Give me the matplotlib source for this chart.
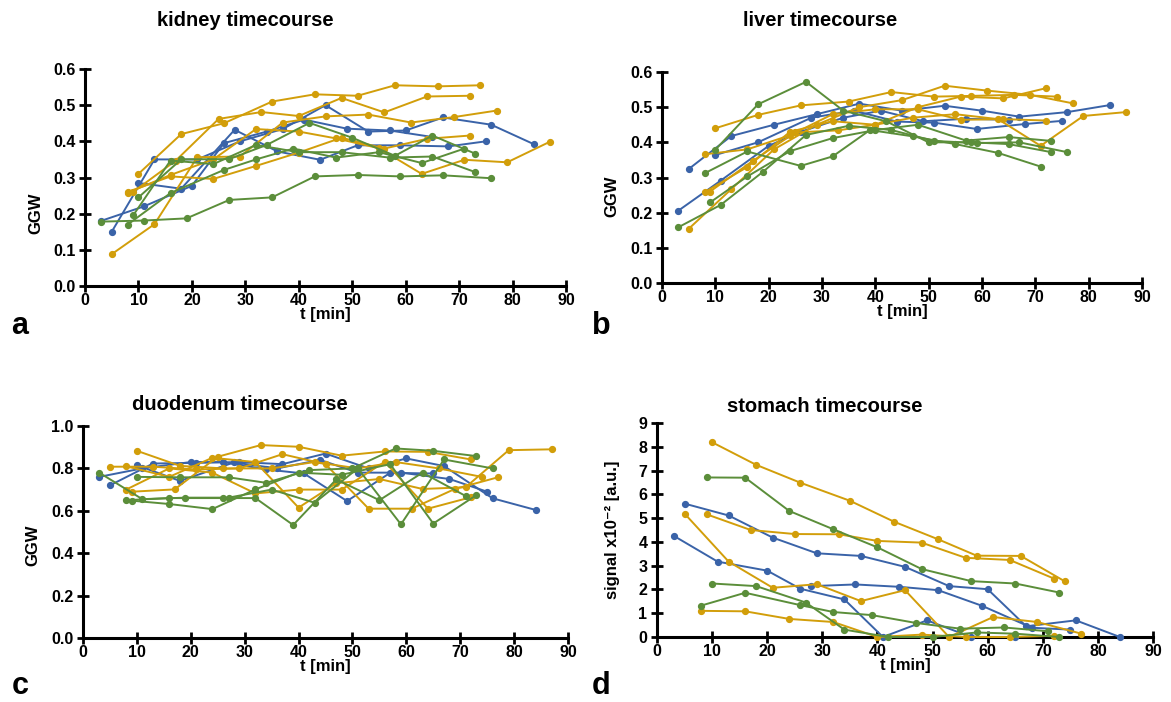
import numpy as np
import matplotlib
matplotlib.use("Agg")
import matplotlib.pyplot as plt

plt.rcParams['font.family'] = ['Liberation Sans', 'DejaVu Sans']
plt.rcParams['font.weight'] = 'bold'

# measurement times per subject [min]
times = {
    'b1': [5, 13, 21, 29, 37, 45, 53, 60, 67, 76, 84],
    'b2': [3, 11, 20, 26, 34, 41, 49, 57, 65],
    'b3': [10, 18, 28, 36, 44, 51, 59, 68, 75],
    'y1': [10, 18, 26, 35, 43, 51, 58, 66, 74],
    'y2': [9, 17, 25, 33, 40, 48, 56, 64, 72],
    'y3': [5, 13, 21, 29, 37, 45, 53, 61, 69, 77],
    'y4': [8, 16, 24, 32, 40, 48, 56, 64, 72],
    'y5': [8, 16, 24, 32, 40, 47, 55, 63, 71, 79, 87],
    'g1': [9, 16, 24, 32, 40, 48, 57, 65, 73],
    'g2': [10, 18, 27, 34, 42, 50, 58, 65, 73],
    'g3': [8, 16, 26, 32, 39, 47, 55, 63, 71],
    'g4': [3, 11, 19, 27, 35, 43, 51, 59, 67, 76],
}

kidney = {
    'b1': [0.15, 0.35, 0.35, 0.40, 0.434, 0.50, 0.427, 0.43, 0.466, 0.446, 0.392],
    'b2': [0.18, 0.22, 0.277, 0.395, 0.427, 0.46, 0.435, 0.43, 0.412],
    'b3': [0.285, 0.269, 0.432, 0.372, 0.349, 0.389, 0.389, 0.386, 0.40],
    'y1': [0.31, 0.42, 0.45, 0.51, 0.53, 0.526, 0.555, 0.552, 0.555],
    'y2': [0.26, 0.347, 0.462, 0.481, 0.47, 0.52, 0.48, 0.524, 0.526],
    'y3': [0.088, 0.171, 0.356, 0.358, 0.452, 0.469, 0.474, 0.452, 0.467, 0.485],
    'y4': [0.26, 0.303, 0.296, 0.332, 0.369, 0.41, 0.38, 0.407, 0.416],
    'y5': [0.258, 0.307, 0.35, 0.434, 0.427, 0.408, 0.381, 0.31, 0.349, 0.342, 0.399],
    'g1': [0.195, 0.347, 0.337, 0.39, 0.37, 0.37, 0.355, 0.358, 0.315],
    'g2': [0.245, 0.35, 0.351, 0.39, 0.451, 0.41, 0.36, 0.416, 0.366],
    'g3': [0.17, 0.257, 0.321, 0.35, 0.38, 0.355, 0.37, 0.34, 0.38],
    'g4': [0.178, 0.181, 0.187, 0.238, 0.245, 0.303, 0.307, 0.303, 0.306, 0.298],
}

liver = {
    'b1': [0.324, 0.418, 0.45, 0.48, 0.51, 0.49, 0.504, 0.49, 0.473, 0.486, 0.506],
    'b2': [0.205, 0.291, 0.39, 0.43, 0.47, 0.49, 0.46, 0.467, 0.464],
    'b3': [0.364, 0.40, 0.47, 0.49, 0.459, 0.456, 0.438, 0.452, 0.461],
    'y1': [0.44, 0.478, 0.505, 0.516, 0.543, 0.53, 0.532, 0.535, 0.53],
    'y2': [0.26, 0.347, 0.428, 0.434, 0.45, 0.50, 0.53, 0.525, 0.554],
    'y3': [0.154, 0.267, 0.38, 0.45, 0.50, 0.52, 0.561, 0.547, 0.535, 0.511],
    'y4': [0.366, 0.38, 0.42, 0.48, 0.494, 0.494, 0.464, 0.466, 0.462],
    'y5': [0.258, 0.33, 0.43, 0.46, 0.45, 0.47, 0.48, 0.466, 0.39, 0.475, 0.486],
    'g1': [0.229, 0.303, 0.375, 0.412, 0.435, 0.45, 0.405, 0.415, 0.404],
    'g2': [0.379, 0.508, 0.572, 0.49, 0.46, 0.40, 0.40, 0.395, 0.372],
    'g3': [0.312, 0.374, 0.333, 0.36, 0.435, 0.417, 0.395, 0.37, 0.331],
    'g4': [0.158, 0.222, 0.317, 0.421, 0.447, 0.435, 0.404, 0.398, 0.40, 0.372],
}

duodenum = {
    'b1': [0.72, 0.823, 0.826, 0.83, 0.82, 0.87, 0.80, 0.847, 0.811, 0.659, 0.604],
    'b2': [0.76, 0.80, 0.83, 0.83, 0.795, 0.776, 0.646, 0.779, 0.776],
    'b3': [0.815, 0.741, 0.828, 0.80, 0.84, 0.78, 0.78, 0.75, 0.69],
    'y1': [0.883, 0.812, 0.80, 0.80, 0.83, 0.80, 0.83, 0.80, 0.76],
    'y2': [0.69, 0.701, 0.855, 0.91, 0.902, 0.86, 0.88, 0.878, 0.842],
    'y3': [0.808, 0.808, 0.795, 0.80, 0.867, 0.82, 0.61, 0.61, 0.703, 0.758],
    'y4': [0.70, 0.80, 0.78, 0.682, 0.70, 0.70, 0.831, 0.61, 0.664],
    'y5': [0.81, 0.76, 0.85, 0.83, 0.615, 0.73, 0.75, 0.703, 0.711, 0.886, 0.89],
    'g1': [0.648, 0.632, 0.608, 0.701, 0.78, 0.77, 0.82, 0.54, 0.674],
    'g2': [0.76, 0.758, 0.758, 0.732, 0.792, 0.80, 0.894, 0.883, 0.858],
    'g3': [0.65, 0.66, 0.66, 0.66, 0.533, 0.748, 0.65, 0.78, 0.67],
    'g4': [0.78, 0.655, 0.662, 0.662, 0.70, 0.638, 0.80, 0.536, 0.842, 0.80],
}

stomach = {
    'b1': [5.61, 5.11, 4.18, 3.52, 3.41, 2.95, 2.14, 2.01, 0.45, 0.70, 0.0],
    'b2': [4.26, 3.17, 2.79, 2.03, 1.58, 0.0, 0.70, 0.0, 0.0],
    'b3': [None, None, 2.14, 2.21, 2.11, 1.97, 1.31, 0.39, 0.31],
    'y1': [8.19, 7.24, 6.49, 5.73, 4.85, 4.11, 3.42, 3.41, 2.34],
    'y2': [5.16, 4.50, 4.33, 4.32, 4.04, 3.97, 3.33, 3.24, 2.46],
    'y3': [5.19, 3.17, 2.07, 2.22, 1.51, 1.97, 0.0, 0.84, 0.63, 0.14],
    'y4': [1.10, 1.08, 0.76, 0.63, 0.0, 0.10, 0.0, 0.0, 0.05],
    'g1': [6.71, 6.70, 5.30, 4.53, 3.77, 2.86, 2.35, 2.25, 1.87],
    'g2': [2.25, 2.14, 1.45, 0.31, 0.0, 0.0, 0.19, 0.14, 0.0],
    'g3': [1.32, 1.86, 1.34, 1.05, 0.92, 0.59, 0.35, 0.40, 0.24],
}

colors = {'b': '#3A63A8', 'y': '#D29E0A', 'g': '#5B8E3A'}

fig = plt.figure(figsize=(11.71, 7.02), dpi=100)

W, H = 1171.0, 702.0
def px_axes(l, t, r, b):
    return fig.add_axes([l / W, 1 - b / H, (r - l) / W, (b - t) / H])

panels = [
    # data, axes box (px), ylim, yticks, yfmt
    (kidney, (85, 69, 566, 286), (0, 0.6), np.arange(0, 0.61, 0.1), '{:.1f}'),
    (liver, (662, 72, 1142, 283), (0, 0.6), np.arange(0, 0.61, 0.1), '{:.1f}'),
    (duodenum, (83, 426, 568, 638), (0, 1.0), np.arange(0, 1.01, 0.2), '{:.1f}'),
    (stomach, (657, 423, 1153, 637), (0, 9), np.arange(0, 10, 1), '{:.0f}'),
]

for data, box, ylim, yticks, yfmt in panels:
    ax = px_axes(*box)
    for key, vals in data.items():
        tt = [t for t, v in zip(times[key], vals) if v is not None]
        vv = [v for v in vals if v is not None]
        ax.plot(tt, vv, '-o', color=colors[key[0]], lw=1.4, ms=4.2,
                clip_on=False, zorder=3)
    ax.set_xlim(0, 90)
    ax.set_ylim(*ylim)
    ax.set_xticks(np.arange(0, 91, 10))
    ax.set_yticks(yticks)
    ax.set_yticklabels([yfmt.format(v) for v in yticks])
    for s in ['top', 'right']:
        ax.spines[s].set_visible(False)
    for s in ['left', 'bottom']:
        ax.spines[s].set_linewidth(2.2)
    ax.tick_params(direction='inout', length=8, width=2.0, labelsize=11.5)
    ax.tick_params(axis='x', pad=1)
    ax.tick_params(axis='y', pad=3)
    for lab in ax.get_xticklabels() + ax.get_yticklabels():
        lab.set_fontweight('bold')
    ax.set_xlabel('t [min]', fontsize=12, fontweight='bold', labelpad=-1)

# titles
fig.text(245 / W, 1 - 20 / H, 'kidney timecourse', ha='center', va='center', fontsize=14.5, fontweight='bold')
fig.text(820 / W, 1 - 20 / H, 'liver timecourse', ha='center', va='center', fontsize=14.5, fontweight='bold')
fig.text(240 / W, 1 - 405 / H, 'duodenum timecourse', ha='center', va='center', fontsize=14.5, fontweight='bold')
fig.text(825 / W, 1 - 407 / H, 'stomach timecourse', ha='center', va='center', fontsize=14.5, fontweight='bold')

# y labels
fig.text(36 / W, 1 - 213 / H, 'GGW', rotation=90, ha='center', va='center', fontsize=12, fontweight='bold')
fig.text(612 / W, 1 - 196 / H, 'GGW', rotation=90, ha='center', va='center', fontsize=12, fontweight='bold')
fig.text(33 / W, 1 - 545 / H, 'GGW', rotation=90, ha='center', va='center', fontsize=12, fontweight='bold')
fig.text(613 / W, 1 - 530 / H, 'signal x10⁻² [a.u.]', rotation=90, ha='center', va='center', fontsize=12, fontweight='bold')

# panel letters
for letter, x, y in [('a', 20, 326), ('b', 601, 326), ('c', 20, 686), ('d', 601, 686)]:
    fig.text(x / W, 1 - y / H, letter, ha='center', va='center', fontsize=22, fontweight='bold')

fig.savefig('out.png', dpi=100)
